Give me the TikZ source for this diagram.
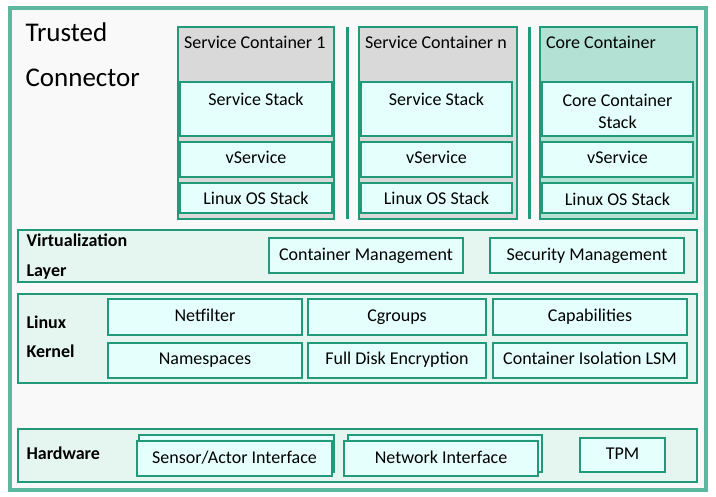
\documentclass[tikz,border=0pt]{standalone}
\usepackage{fontspec}
\setmainfont{Carlito}

\begin{document}
\begin{tikzpicture}[x=1pt,y=-1pt,
    txt/.style={font=\fontsize{18}{21}\selectfont,anchor=base},
    head/.style={font=\fontsize{18}{21}\selectfont,anchor=base west},
    layertxt/.style={font=\fontsize{18}{21}\selectfont\bfseries,anchor=base west}]

    \definecolor{framecolor}{RGB}{93,184,160}
    \definecolor{linecolor}{RGB}{34,154,122}
    \definecolor{boxcolor}{RGB}{229,255,253}
    \definecolor{layercolor}{RGB}{229,246,241}
    \definecolor{corecolor}{RGB}{179,226,213}
    \definecolor{insidecolor}{RGB}{249,249,249}
    \colorlet{servicecolor}{black!15}

    \useasboundingbox (0,0) rectangle (716,497);
    \fill[white] (0,0) rectangle (716,497);

    \draw[framecolor,fill=insidecolor,line width=4.5pt] (10,8) rectangle (706,490);

    \node[anchor=base west,font=\fontsize{27}{32}\selectfont] (trusted) at (22,42) {Trusted};
    \node[anchor=base west,font=\fontsize{27}{32}\selectfont] (connector) at (22,87) {Connector};

    % containers
    \draw[linecolor,fill=servicecolor,line width=2pt] (178,27) rectangle (334,219);
    \draw[linecolor,fill=boxcolor,line width=2pt] (180,82) rectangle (332,136);
    \draw[linecolor,fill=boxcolor,line width=2pt] (180,142) rectangle (332,177);
    \draw[linecolor,fill=boxcolor,line width=2pt] (180,183) rectangle (332,213);
    \node[head] (sc1) at (180.5,49) {Service Container 1};
    \node[txt] (stack1) at (256,106) {Service Stack};
    \node[txt] (vservice1) at (256,164) {vService};
    \node[txt] (os1) at (256,205) {Linux OS Stack};

    \draw[linecolor,line width=3pt] (347,27) -- (347,219);

    \draw[linecolor,fill=servicecolor,line width=2pt] (359,27) rectangle (517,219);
    \draw[linecolor,fill=boxcolor,line width=2pt] (361,82) rectangle (512,136);
    \draw[linecolor,fill=boxcolor,line width=2pt] (361,142) rectangle (512,177);
    \draw[linecolor,fill=boxcolor,line width=2pt] (361,183) rectangle (512,213);
    \node[head] (scn) at (361.5,49) {Service Container n};
    \node[txt] (stackn) at (436.5,106) {Service Stack};
    \node[txt] (vservicen) at (436.5,164) {vService};
    \node[txt] (osn) at (436.5,205) {Linux OS Stack};

    \draw[linecolor,line width=3pt] (529,27) -- (529,219);

    \draw[linecolor,fill=corecolor,line width=2pt] (540,27) rectangle (697,219);
    \draw[linecolor,fill=boxcolor,line width=2pt] (542,82) rectangle (693,136);
    \draw[linecolor,fill=boxcolor,line width=2pt] (542,142) rectangle (693,177);
    \draw[linecolor,fill=boxcolor,line width=2pt] (542,183) rectangle (693,213);
    \node[head] (core) at (542.5,49) {Core Container};
    \node[txt] (corestack1) at (617.5,107) {Core Container};
    \node[txt] (corestack2) at (617.5,129) {Stack};
    \node[txt] (vservicec) at (617.5,164) {vService};
    \node[txt] (osc) at (617.5,206) {Linux OS Stack};

    % virtualization layer
    \draw[linecolor,fill=layercolor,line width=2pt] (18,230) rectangle (697,282);
    \node[layertxt] (virt) at (23,247) {Virtualization};
    \node[layertxt] (virtlayer) at (23,277) {Layer};
    \draw[linecolor,fill=boxcolor,line width=2pt] (269,238) rectangle (463,273);
    \draw[linecolor,fill=boxcolor,line width=2pt] (490,238) rectangle (684,273);
    \node[txt] (cm) at (366,261) {Container Management};
    \node[txt] (sm) at (587,261) {Security Management};

    % linux kernel
    \draw[linecolor,fill=layercolor,line width=2pt] (18,294) rectangle (697,383);
    \node[layertxt] (linux) at (23,329) {Linux};
    \node[layertxt] (kernel) at (23,358) {Kernel};
    \draw[linecolor,fill=boxcolor,line width=2pt] (108,299) rectangle (302,335);
    \draw[linecolor,fill=boxcolor,line width=2pt] (308,299) rectangle (486,335);
    \draw[linecolor,fill=boxcolor,line width=2pt] (493,299) rectangle (687,335);
    \draw[linecolor,fill=boxcolor,line width=2pt] (108,343) rectangle (302,378);
    \draw[linecolor,fill=boxcolor,line width=2pt] (308,343) rectangle (486,378);
    \draw[linecolor,fill=boxcolor,line width=2pt] (493,343) rectangle (687,378);
    \node[txt] (netfilter) at (205,322) {Netfilter};
    \node[txt] (cgroups) at (397,322) {Cgroups};
    \node[txt] (caps) at (590,322) {Capabilities};
    \node[txt] (namespaces) at (205,365) {Namespaces};
    \node[txt] (fde) at (397,365) {Full Disk Encryption};
    \node[txt] (lsm) at (590,365) {Container Isolation LSM};

    % hardware
    \draw[linecolor,fill=layercolor,line width=2pt] (18,429) rectangle (697,482);
    \node[layertxt] (hw) at (23,460) {Hardware};
    \draw[linecolor,fill=boxcolor,line width=2pt] (139,435) rectangle (334,472);
    \draw[linecolor,fill=boxcolor,line width=2pt] (137,441) rectangle (332,476);
    \draw[linecolor,fill=boxcolor,line width=2pt] (348,435) rectangle (542,472);
    \draw[linecolor,fill=boxcolor,line width=2pt] (344,441) rectangle (538,476);
    \draw[linecolor,fill=boxcolor,line width=2pt] (580,438) rectangle (665,472);
    \node[txt] (sensor) at (234.5,464) {Sensor/Actor Interface};
    \node[txt] (network) at (441,464) {Network Interface};
    \node[txt] (tpm) at (622.5,460) {TPM};

\end{tikzpicture}
\end{document}
